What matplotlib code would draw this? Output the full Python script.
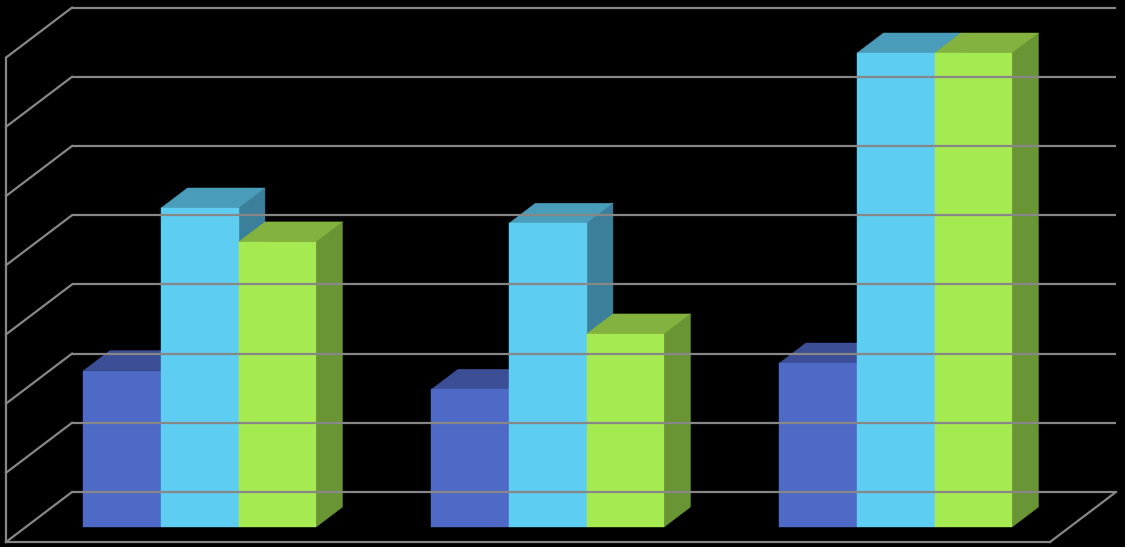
import matplotlib
matplotlib.use('Agg')
import matplotlib.pyplot as plt
from matplotlib.patches import Polygon

# values (value axis 0..7, no labels shown)
categories = ['A', 'B', 'C']
series_blue = [2.26, 1.99, 2.37]
series_cyan = [4.61, 4.39, 6.85]
series_green = [4.12, 2.79, 6.85]
y_max = 7

front_colors = ['#4f69c6', '#5ecdf2', '#a6ea52']
top_colors = ['#3c4f96', '#4a9dba', '#83b23f']
side_colors = ['#2f3f78', '#3b7f9a', '#6a9535']
grid_color = '#878787'

# oblique projection: full depth shifts right and up
DX = 66 / 348
DY = 50 / 69.2
bar_w = 0.2228
z0, z1 = 0.3, 0.7

fig = plt.figure(figsize=(11.25, 5.47), dpi=100, facecolor='black')
ax = fig.add_axes([0, 0, 1, 1])
ax.set_facecolor('black')
ax.set_xlim(-6 / 348, (1125 - 6) / 348)
ax.set_ylim((542 - 547) / 69.2, 542 / 69.2)
ax.axis('off')

n = len(categories)
lw = 1.6
# back wall + left wall grid
for k in range(y_max + 1):
    ax.plot([DX, n + DX], [k + DY, k + DY], color=grid_color, lw=lw, solid_capstyle='butt')
    ax.plot([0, DX], [k, k + DY], color=grid_color, lw=lw)
ax.plot([0, 0], [0, y_max], color=grid_color, lw=lw)
ax.plot([0, n], [0, 0], color=grid_color, lw=lw)
ax.plot([n, n + DX], [0, DY], color=grid_color, lw=lw)


def box(x, v, i):
    x0 = x + z0 * DX
    y0 = z0 * DY
    ox = (z1 - z0) * DX
    oy = (z1 - z0) * DY
    side = [(x0 + bar_w, y0), (x0 + bar_w + ox, y0 + oy),
            (x0 + bar_w + ox, y0 + oy + v), (x0 + bar_w, y0 + v)]
    top = [(x0, y0 + v), (x0 + bar_w, y0 + v),
           (x0 + bar_w + ox, y0 + oy + v), (x0 + ox, y0 + oy + v)]
    front = [(x0, y0), (x0 + bar_w, y0), (x0 + bar_w, y0 + v), (x0, y0 + v)]
    for pts, c in [(side, side_colors[i]), (top, top_colors[i]), (front, front_colors[i])]:
        ax.add_patch(Polygon(pts, closed=True, facecolor=c, edgecolor=c, lw=0.3))


all_series = [series_blue, series_cyan, series_green]
for g in range(n):
    left = g + 0.5 - 1.5 * bar_w
    for i, s in enumerate(all_series):
        box(left + i * bar_w, s[g], i)

fig.savefig('out.png', dpi=100, facecolor='black')
